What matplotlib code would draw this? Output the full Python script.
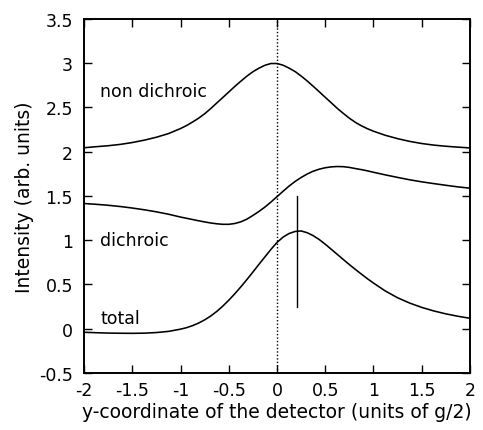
import numpy as np
import matplotlib
matplotlib.use("Agg")
import matplotlib.pyplot as plt

plt.rcParams['font.family'] = ['DejaVu Sans']

# positions along the detector (units of g/2)
x = [-2.000, -1.875, -1.750, -1.625, -1.500, -1.375, -1.250, -1.125,
     -1.000, -0.9375, -0.875, -0.8125, -0.750, -0.6875, -0.625, -0.5625,
     -0.500, -0.4375, -0.375, -0.3125, -0.250, -0.1875, -0.125, -0.0625,
     0.000, 0.0625, 0.125, 0.1875, 0.250, 0.3125, 0.375, 0.4375,
     0.500, 0.5625, 0.625, 0.6875, 0.750, 0.8125, 0.875, 0.9375,
     1.000, 1.125, 1.250, 1.375, 1.500, 1.625, 1.750, 1.875, 2.000]

non_dichroic = [2.045, 2.057, 2.068, 2.083, 2.104, 2.131, 2.164, 2.205,
                2.262, 2.296, 2.336, 2.379, 2.429, 2.487, 2.550, 2.612,
                2.675, 2.738, 2.797, 2.854, 2.904, 2.944, 2.977, 2.997,
                2.997, 2.978, 2.945, 2.906, 2.856, 2.800, 2.740, 2.678,
                2.615, 2.553, 2.490, 2.433, 2.379, 2.332, 2.293, 2.260,
                2.232, 2.185, 2.148, 2.117, 2.093, 2.075, 2.062, 2.052, 2.043]

dichroic = [1.415, 1.406, 1.395, 1.381, 1.364, 1.344, 1.321, 1.294,
            1.262, 1.248, 1.234, 1.220, 1.207, 1.195, 1.186, 1.180,
            1.180, 1.189, 1.208, 1.238, 1.280, 1.325, 1.375, 1.432,
            1.492, 1.553, 1.612, 1.664, 1.709, 1.748, 1.780, 1.803,
            1.819, 1.829, 1.833, 1.831, 1.823, 1.810, 1.798, 1.784,
            1.768, 1.738, 1.710, 1.683, 1.660, 1.640, 1.621, 1.603, 1.588]

total = [-0.040, -0.045, -0.049, -0.051, -0.052, -0.050, -0.043, -0.030,
         -0.005, 0.012, 0.035, 0.064, 0.100, 0.143, 0.195, 0.255,
         0.322, 0.395, 0.473, 0.555, 0.640, 0.727, 0.812, 0.897,
         0.975, 1.035, 1.076, 1.099, 1.105, 1.085, 1.052, 1.008,
         0.955, 0.898, 0.840, 0.782, 0.725, 0.670, 0.617, 0.565,
         0.516, 0.425, 0.350, 0.290, 0.241, 0.201, 0.168, 0.141, 0.118]

# marker of the total-curve maximum
peak_x = 0.21
peak_y = [0.25, 1.5]

labels = ["non dichroic", "dichroic", "total"]
label_y = [2.69, 1.0, 0.12]

fig = plt.figure(figsize=(4.83, 4.31), dpi=100)
ax = fig.add_axes([0.174, 0.1323, 0.799, 0.8213])

for y in (non_dichroic, dichroic, total):
    ax.plot(x, y, color='black', lw=1.15)

ax.axvline(0, color='black', lw=1.0, ls=(0, (1, 1.5)))
ax.plot([peak_x, peak_x], peak_y, color='black', lw=1.0)

for t, yy in zip(labels, label_y):
    ax.text(-1.83, yy, t, fontsize=12.5, va='center', ha='left')

ax.set_xlim(-2, 2)
ax.set_ylim(-0.5, 3.5)
ax.set_xticks(np.arange(-2, 2.01, 0.5))
ax.set_yticks(np.arange(-0.5, 3.51, 0.5))
ax.set_xticklabels(['-2', '-1.5', '-1', '-0.5', '0', '0.5', '1', '1.5', '2'])
ax.set_yticklabels(['-0.5', '0', '0.5', '1', '1.5', '2', '2.5', '3', '3.5'])
ax.tick_params(direction='in', length=6, width=1.0, top=True, right=True,
               labelsize=12.5)
ax.tick_params(axis='y', pad=8)
ax.tick_params(axis='x', pad=6)
for s in ax.spines.values():
    s.set_linewidth(1.4)

ax.set_xlabel('y-coordinate of the detector (units of g/2)', fontsize=13.5, labelpad=2)
ax.set_ylabel('Intensity (arb. units)', fontsize=13.5, labelpad=4)

fig.savefig('out.png', dpi=100)
